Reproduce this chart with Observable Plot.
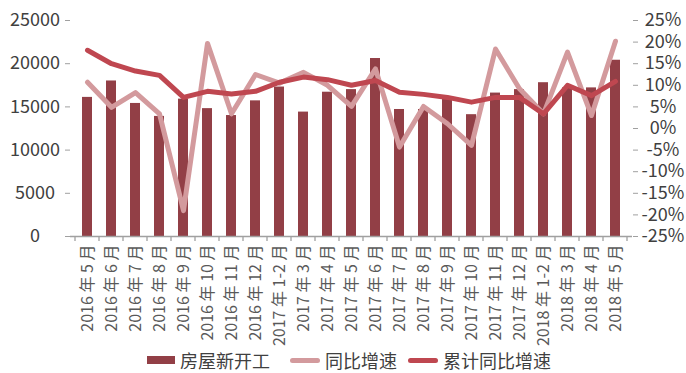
<!DOCTYPE html>
<html>
<head>
<meta charset="utf-8">
<script src="https://cdn.jsdelivr.net/npm/d3@7"></script>
<script src="https://cdn.jsdelivr.net/npm/@observablehq/plot@0.6"></script>
<style>
  body { margin: 0; background: #fff; font-family: "Noto Sans CJK SC", "Noto Sans", sans-serif; }
  #chart svg { display: block; }
  #legend { position: relative; height: 26px; font-size: 18px; color: #404040; }
  .item { position: absolute; top: 0; height: 26px; display: flex; align-items: center; line-height: 26px; }
  .sw { display: inline-block; margin-right: 5px; }
</style>
</head>
<body>
<div id="chart"></div>
<div id="legend"></div>
<script>
const categories = [
  "2016 年 5 月", "2016 年 6 月", "2016 年 7 月", "2016 年 8 月", "2016 年 9 月",
  "2016 年 10 月", "2016 年 11 月", "2016 年 12 月", "2017 年 1-2 月", "2017 年 3 月",
  "2017 年 4 月", "2017 年 5 月", "2017 年 6 月", "2017 年 7 月", "2017 年 8 月",
  "2017 年 9 月", "2017 年 10 月", "2017 年 11 月", "2017 年 12 月", "2018 年 1-2 月",
  "2018 年 3 月", "2018 年 4 月", "2018 年 5 月"
];
const newStarts = [16100, 18000, 15400, 13900, 15900, 14800, 14000, 15700, 17300, 14400,
  16700, 17000, 20600, 14700, 14700, 15900, 14100, 16600, 17000, 17800, 17200, 17200, 20400];
const yoyGrowth = [10.7, 4.9, 8.3, 3.4, -19.0, 19.7, 3.4, 12.5, 10.5, 13.0,
  10.0, 5.1, 13.8, -4.3, 5.1, 1.1, -3.9, 18.4, 9.2, 3.4, 17.7, 3.0, 20.2];
const cumYoyGrowth = [18.1, 15.0, 13.3, 12.3, 7.2, 8.6, 8.0, 8.6, 10.7, 11.9,
  11.3, 10.0, 11.1, 8.4, 7.9, 7.2, 6.1, 7.2, 7.2, 3.4, 10.0, 7.6, 10.9];
const leftTicks = [0, 5000, 10000, 15000, 20000, 25000];
const rightTicks = [-25, -20, -15, -10, -5, 0, 5, 10, 15, 20, 25];
const seriesNames = ["房屋新开工", "同比增速", "累计同比增速"];

const barColor = "#923F46";
const yoyColor = "#D39A9D";
const cumColor = "#BF4750";
const axisColor = "#A0A0A0";
const textColor = "#404040";
const xTextColor = "#595959";

// right axis (%) mapped onto the left scale domain [0, 25000]
const toY = p => (p + 25) * 500;
const fromY = v => Math.round(v / 500 - 25);

const data = categories.map((c, i) => ({
  cat: c, value: newStarts[i], yoy: yoyGrowth[i], cum: cumYoyGrowth[i]
}));

const chart = Plot.plot({
  width: 686,
  height: 347,
  marginLeft: 70,
  marginRight: 54,
  marginTop: 20,
  marginBottom: 111,
  style: { fontFamily: '"Noto Sans CJK SC", "Noto Sans", sans-serif', background: "#fff" },
  x: { domain: categories, paddingInner: 0.58, paddingOuter: 0.29, axis: null, label: null },
  y: { domain: [0, 25000], axis: null, label: null },
  marks: [
    Plot.barY(data, { x: "cat", y: "value", fill: barColor }),
    Plot.line(data, { x: "cat", y: d => toY(d.yoy), stroke: yoyColor, strokeWidth: 5, strokeLinejoin: "round", strokeLinecap: "round" }),
    Plot.line(data, { x: "cat", y: d => toY(d.cum), stroke: cumColor, strokeWidth: 5, strokeLinejoin: "round", strokeLinecap: "round" }),
    Plot.ruleY([0], { stroke: axisColor, strokeWidth: 1.3 }),
    Plot.axisY({ ticks: leftTicks, tickSize: 5, tickPadding: 30.5, textAnchor: "middle", line: true, stroke: axisColor, fill: textColor, fontSize: 18, label: null, tickFormat: d => String(d) }),
    Plot.axisY({ anchor: "right", ticks: rightTicks.map(toY), tickFormat: v => fromY(v) + "%", tickSize: 5, tickPadding: 25.5, textAnchor: "middle", line: true, stroke: axisColor, fill: textColor, fontSize: 18, label: null }),
    Plot.axisX({ tickRotate: -90, tickSize: 0, tickPadding: 8, fill: xTextColor, fontSize: 16, label: null })
  ]
});

// category-boundary tick marks on the x axis, positioned with Plot's x scale
const xs = chart.scale("x");
const ys = chart.scale("y");
const step = xs.apply(categories[1]) - xs.apply(categories[0]);
const off = (step - xs.bandwidth) / 2;
const bounds = categories.map(c => xs.apply(c) - off);
bounds.push(xs.apply(categories[categories.length - 1]) - off + step);
const y0 = ys.apply(0);
d3.select(chart).append("g")
  .attr("stroke", axisColor)
  .attr("stroke-width", 1.3)
  .selectAll("line").data(bounds).join("line")
  .attr("x1", d => d).attr("x2", d => d)
  .attr("y1", y0).attr("y2", y0 + 5);

document.getElementById("chart").append(chart);

// legend
const legend = d3.select("#legend");
const items = [
  { name: seriesNames[0], left: 147, sw: s => s.style("width", "28px").style("height", "8px").style("background", barColor) },
  { name: seriesNames[1], left: 290, sw: s => s.style("width", "30px").style("height", "5px").style("border-radius", "3px").style("background", yoyColor) },
  { name: seriesNames[2], left: 408, sw: s => s.style("width", "30px").style("height", "5px").style("border-radius", "3px").style("background", cumColor) }
];
items.forEach(it => {
  const div = legend.append("div").attr("class", "item").style("left", it.left + "px");
  it.sw(div.append("span").attr("class", "sw"));
  div.append("span").text(it.name);
});
</script>
</body>
</html>
